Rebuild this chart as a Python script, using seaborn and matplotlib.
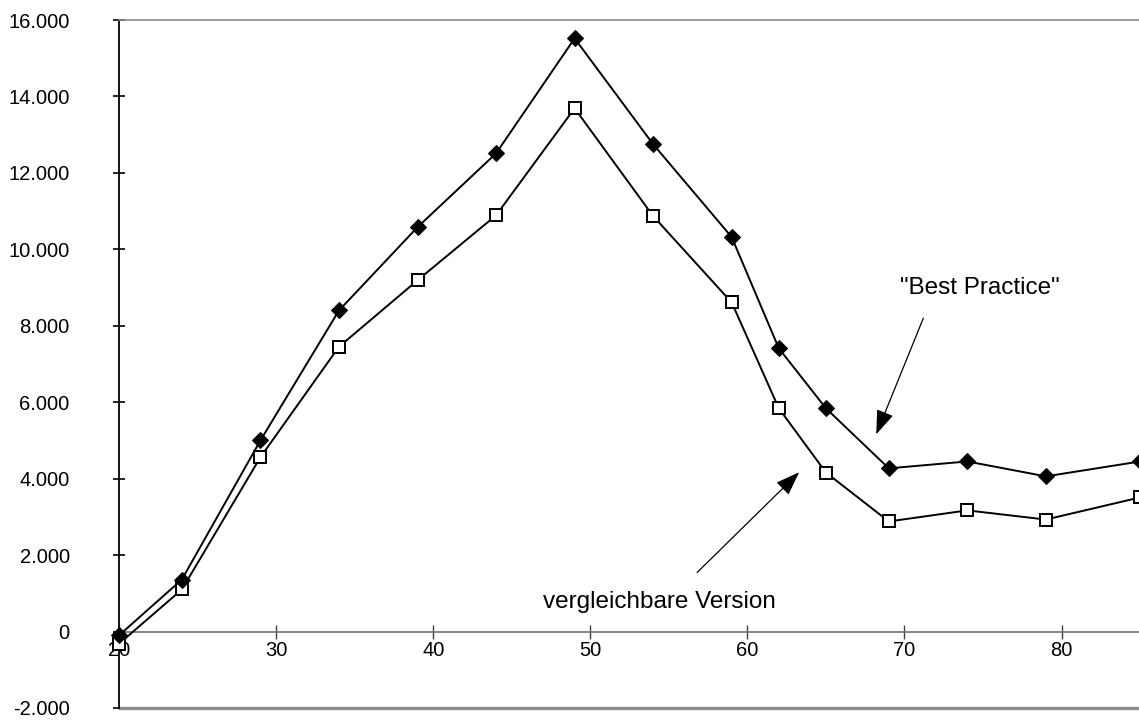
import matplotlib
matplotlib.use("Agg")
import matplotlib.pyplot as plt
import matplotlib.ticker as mticker
import seaborn as sns
import pandas as pd

# Age groups and the two result series
ages = [20, 24, 29, 34, 39, 44, 49, 54, 59, 62, 65, 69, 74, 79, 85]
best_practice = [-100, 1360, 5000, 8400, 10580, 12510, 15520, 12750, 10320, 7410, 5840, 4270, 4450, 4060, 4450]
vergleichbar = [-320, 1100, 4560, 7450, 9190, 10890, 13690, 10870, 8610, 5840, 4160, 2880, 3170, 2930, 3510]

y_ticks = list(range(-2000, 16001, 2000))
x_ticks = [20, 30, 40, 50, 60, 70, 80]

sns.set_theme(style="white")
plt.rcParams["font.family"] = ["Liberation Sans", "DejaVu Sans"]
plt.rcParams["text.color"] = "black"
plt.rcParams["xtick.color"] = "black"
plt.rcParams["ytick.color"] = "black"

fig = plt.figure(figsize=(11.39, 7.2), dpi=100)
ax = fig.add_axes([0.1045, 0.0167, 0.8965, 0.9555])

df = pd.DataFrame({"Alter": ages, "best": best_practice, "vergl": vergleichbar})

sns.lineplot(data=df, x="Alter", y="vergl", ax=ax, color="black", lw=1.4,
             marker="s", markersize=9, markerfacecolor="white",
             markeredgecolor="black", markeredgewidth=1.4, zorder=3, clip_on=False)
sns.lineplot(data=df, x="Alter", y="best", ax=ax, color="black", lw=1.4,
             marker="D", markersize=7.8, markerfacecolor="black",
             markeredgecolor="black", zorder=4, clip_on=False)

ax.set_xlim(20, 85)
ax.set_ylim(-2000, 16000)
ax.set_xlabel("")
ax.set_ylabel("")

# plot-area border (gray) and axes
for side in ["top", "right"]:
    ax.spines[side].set_visible(True)
    ax.spines[side].set_color("#8c8c8c")
    ax.spines[side].set_linewidth(1.2)
ax.spines["left"].set_color("black")
ax.spines["left"].set_linewidth(1.3)
ax.spines["bottom"].set_position(("data", 0))
ax.spines["bottom"].set_color("#707070")
ax.spines["bottom"].set_linewidth(1.2)
ax.axhline(-2000, color="#8c8c8c", lw=2.4, clip_on=False, zorder=1)

ax.set_yticks(y_ticks)
ax.yaxis.set_major_formatter(mticker.FuncFormatter(
    lambda v, p: f"{int(v):,}".replace(",", ".")))
ax.set_xticks(x_ticks)
ax.tick_params(axis="y", direction="inout", length=9, width=1.2, color="black",
               labelsize=14.5, pad=31, left=True, labelcolor="black")
ax.tick_params(axis="x", direction="inout", length=10, width=1.0, color="#404040",
               labelsize=14.5, pad=2, bottom=True, labelcolor="black")

# annotations: labels and their arrows
arrow_style = dict(arrowstyle="-|>,head_length=1.25,head_width=0.45",
                   color="black", lw=0.9, shrinkA=0, shrinkB=0)
ax.text(74.8, 8990, '"Best Practice"', ha="center", va="center",
        fontsize=17.5, color="black")
ax.annotate("", xy=(68.2, 5160), xytext=(71.2, 8200), arrowprops=arrow_style)
ax.text(54.4, 760, "vergleichbare Version", ha="center", va="center",
        fontsize=17.5, color="black")
ax.annotate("", xy=(63.3, 4170), xytext=(56.8, 1545), arrowprops=arrow_style)

fig.savefig("out.png", dpi=100)
